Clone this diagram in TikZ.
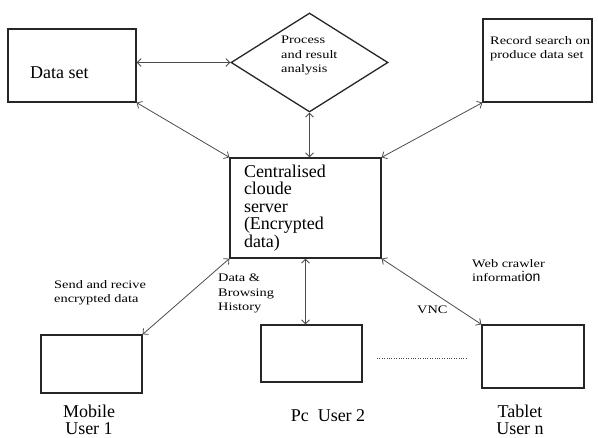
\documentclass[tikz,border=0pt]{standalone}
\usepackage{fontspec}
\setmainfont{Liberation Serif}
\newfontfamily\widefont[FakeStretch=1.25]{Liberation Serif}
\newfontfamily\ionfont{Liberation Sans}
\usetikzlibrary{arrows.meta,shapes.geometric}

\begin{document}
\begin{tikzpicture}[
  x=1pt, y=-1pt,
  box/.style={draw=black!85, line width=1.3pt, inner sep=0pt},
  dia/.style={draw=black!85, line width=1.3pt, diamond, minimum width=157pt,
              minimum height=99pt, inner sep=0pt},
  big/.style={font=\fontsize{18}{17}\selectfont, inner sep=0pt},
  small/.style={font=\widefont\fontsize{11.5}{14.5}\selectfont, align=left,
                anchor=north west, inner sep=0pt},
  arrow/.style={{Straight Barb[length=4pt]}-{Straight Barb[length=4pt]},
                black!70, line width=0.8pt}
]
\useasboundingbox (0,0) rectangle (598,438);

% Top row
\node[box, minimum width=128pt, minimum height=73pt] (dataset) at (72,65.5) {};
\node[big, anchor=base west] (datasettext) at (30,79) {Data set};
\node[dia] (proc) at (309.5,62.5) {};
\node[small] (proctext) at (281,36) {Process\\and result\\analysis};
\node[box, minimum width=109pt, minimum height=83pt] (record) at (537.5,60.5) {};
\node[small] (recordtext) at (490,36) {Record search on\\produce data set};

% Server
\node[box, big, minimum width=151pt, minimum height=100pt, text width=123pt,
  align=left, font=\fontsize{18}{17.5}\selectfont] (server) at (305.5,208)
  {Centralised\\cloude\\server\\(Encrypted\\data)};

% Users
\node[box, minimum width=101pt, minimum height=58pt] (mobile) at (91.5,364) {};
\node[box, minimum width=101pt, minimum height=57pt] (pc) at (311.5,353.5) {};
\node[box, minimum width=102pt, minimum height=63pt] (tablet) at (533,356.5) {};
\node[big, align=center, anchor=north] (mobilelbl) at (89,405) {Mobile\\User 1};
\node[big, anchor=north] (pclbl) at (328,409.5) {Pc\ \ User 2};
\node[big, align=center, anchor=north] (tabletlbl) at (520,404.5) {Tablet\\User n};

% Labels on connectors
\node[small] (sendlbl) at (54,280) {Send and recive\\encrypted data};
\node[small] (histlbl) at (218,274) {Data \&\\Browsing\\History};
\node[small] (vnclbl) at (417,306) {VNC};
\node[small] (weblbl) at (472,259)
  {Web crawler\\informat{\ionfont\fontsize{14}{14.5}\selectfont ion}};

% Arrows
\draw[arrow] (proc.west -| dataset.east) -- (proc.west);
\draw[arrow] (dataset.south east) -- (server.north west);
\draw[arrow] (proc.south) -- (proc.south |- server.north);
\draw[arrow] (record.south west) -- (server.north east);
\draw[arrow] (server.south west) -- (mobile.north east);
\draw[arrow] (server.south) -- (server.south |- pc.north);
\draw[arrow] (server.south east) -- (tablet.north west);

% Dots between users
\coordinate (dotA) at (377,358);
\coordinate (dotB) at (468,358);
\draw[dotted, black!70] (dotA) -- (dotB);

\end{tikzpicture}
\end{document}
